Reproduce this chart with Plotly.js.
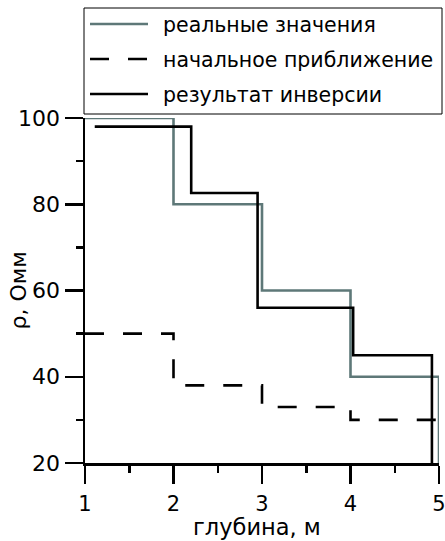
<!DOCTYPE html>
<html>
<head>
<meta charset="utf-8">
<script src="https://cdn.plot.ly/plotly-3.0.1.min.js"></script>
<style>
html,body{margin:0;padding:0;background:#fff}
#chart{width:445px;height:541px}
</style>
</head>
<body>
<div id="chart"></div>
<script>
// Depth boundaries (m) and resistivities (Ohm·m)
const trueDepth = [1, 2, 2, 3, 3, 4, 4, 5, 5];
const trueRho   = [100, 100, 80, 80, 60, 60, 40, 40, 20];

const initDepth = [1, 2, 2, 3, 3, 4, 4, 5];
const initRho   = [50, 50, 38, 38, 33, 33, 30, 30];

const invDepth = [1.11, 2.2, 2.2, 2.95, 2.95, 4.03, 4.03, 4.92, 4.92];
const invRho   = [98, 98, 82.6, 82.6, 56, 56, 45, 45, 20];

const names = ['реальные значения', 'начальное приближение', 'результат инверсии'];
const xTicks = [1, 2, 3, 4, 5];
const yTicks = [20, 40, 60, 80, 100];
const xTitle = 'глубина, м';
const yTitle = 'ρ, Омм';

const FONT = 'DejaVu Sans';
const GRAY = '#5e7878';

const styles = [
  {color: GRAY, width: 2.6},
  {color: '#000', width: 2.6, dash: '19px,19px'},
  {color: '#000', width: 2.6}
];

const traces = [
  {x: trueDepth, y: trueRho, name: names[0], mode: 'lines', line: styles[0]},
  {x: initDepth, y: initRho, name: names[1], mode: 'lines', line: styles[1]},
  {x: invDepth, y: invRho, name: names[2], mode: 'lines', line: styles[2]}
];

// plot area in pixels: left 85, right 439, top 118, bottom 463
const L = 85, R = 439, T = 118, B = 463;
const px = v => (v - L) / (R - L);
const py = v => (B - v) / (B - T);

const shapes = [
  {type: 'rect', xref: 'paper', yref: 'paper', x0: px(84), x1: px(442), y0: py(114), y1: py(8),
   line: {color: '#000', width: 1}, fillcolor: '#fff', layer: 'above'}
];
const annotations = [];
const rowY = [24, 59, 94];
names.forEach((n, i) => {
  shapes.push({type: 'line', xref: 'paper', yref: 'paper', x0: px(90), x1: px(148),
    y0: py(rowY[i]), y1: py(rowY[i]), line: styles[i], layer: 'above'});
  annotations.push({xref: 'paper', yref: 'paper', x: px(161), y: py(rowY[i] + 1),
    xanchor: 'left', yanchor: 'middle', text: n, showarrow: false,
    font: {family: FONT, size: 20.5, color: '#000'}});
});
annotations.push({xref: 'paper', yref: 'paper', x: px(257), y: 0, yshift: -64,
  xanchor: 'center', yanchor: 'middle', text: xTitle, showarrow: false,
  font: {family: FONT, size: 22.5, color: '#000'}});
annotations.push({xref: 'paper', yref: 'paper', x: 0, xshift: -67, y: 0.5,
  xanchor: 'center', yanchor: 'middle', textangle: -90, text: yTitle, showarrow: false,
  font: {family: FONT, size: 22, color: '#000'}});

const layout = {
  width: 445, height: 541,
  margin: {l: L, r: 445 - R, t: T, b: 541 - B},
  paper_bgcolor: '#fff', plot_bgcolor: '#fff',
  font: {family: FONT, size: 22, color: '#000'},
  showlegend: false,
  shapes: shapes,
  annotations: annotations,
  xaxis: {
    range: [1, 5], tickvals: xTicks, ticktext: xTicks.map(String),
    showgrid: false, zeroline: false, showline: true, linecolor: '#000', linewidth: 2.5,
    ticks: 'outside', ticklen: 18, tickwidth: 2.5, tickcolor: '#000',
    ticklabelstandoff: 2, ticklabeloverflow: 'allow',
    tickfont: {family: FONT, size: 21},
    minor: {dtick: 0.5, tick0: 1, ticks: 'outside', ticklen: 7, tickwidth: 2.5, tickcolor: '#000', showgrid: false}
  },
  yaxis: {
    range: [20, 100], tickvals: yTicks, ticktext: yTicks.map(String),
    showgrid: false, zeroline: false, showline: true, linecolor: '#000', linewidth: 2.5,
    ticks: 'outside', ticklen: 18, tickwidth: 2.5, tickcolor: '#000',
    tickfont: {family: FONT, size: 22},
    minor: {dtick: 10, tick0: 20, ticks: 'outside', ticklen: 7, tickwidth: 2.5, tickcolor: '#000', showgrid: false}
  }
};

Plotly.newPlot('chart', traces, layout, {displayModeBar: false, staticPlot: true});
</script>
</body>
</html>
